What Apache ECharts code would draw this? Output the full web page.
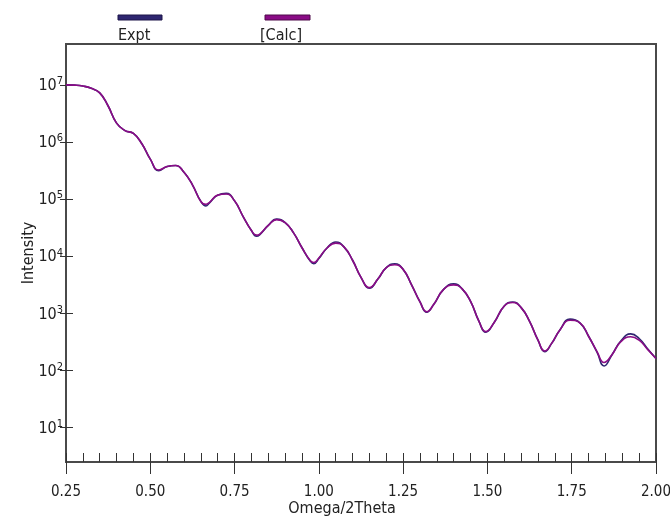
<!DOCTYPE html>
<html>
<head>
<meta charset="utf-8">
<script src="https://cdn.jsdelivr.net/npm/echarts@6/dist/echarts.min.js"></script>
<style>
  html, body { margin: 0; padding: 0; background: #ffffff; }
  #chart { width: 670px; height: 517px; }
</style>
</head>
<body>
<div id="chart"></div>
<script>
// Scan angle (Omega/2Theta, degrees)
const angle = [
  0.250, 0.275, 0.300, 0.325, 0.350, 0.375, 0.400, 0.425, 0.450, 0.475,
  0.500, 0.525, 0.550, 0.575, 0.600, 0.625, 0.650, 0.665, 0.675, 0.700,
  0.725, 0.750, 0.775, 0.800, 0.815, 0.825, 0.850, 0.875, 0.900, 0.925,
  0.950, 0.975, 0.985, 1.000, 1.025, 1.050, 1.075, 1.100, 1.125, 1.150,
  1.175, 1.200, 1.225, 1.250, 1.275, 1.300, 1.320, 1.340, 1.370, 1.400,
  1.425, 1.450, 1.475, 1.495, 1.520, 1.550, 1.575, 1.600, 1.625, 1.650,
  1.670, 1.690, 1.715, 1.745, 1.775, 1.800, 1.825, 1.846, 1.870, 1.895,
  1.925, 1.950, 1.975, 2.000
];

// Measured intensity (counts)
const exptIntensity = [
  1.00e7, 9.90e6, 9.55e6, 8.71e6, 7.24e6, 4.27e6, 2.14e6, 1.585e6, 1.41e6, 9.33e5,
  5.01e5, 3.16e5, 3.72e5, 3.89e5, 2.95e5, 1.78e5, 9.12e4, 7.59e4, 8.51e4, 1.175e5,
  1.26e5, 9.33e4, 5.01e4, 2.82e4, 2.24e4, 2.40e4, 3.47e4, 4.47e4, 3.89e4, 2.57e4,
  1.41e4, 8.13e3, 7.41e3, 9.12e3, 1.41e4, 1.78e4, 1.445e4, 8.51e3, 4.27e3, 2.75e3,
  3.98e3, 6.31e3, 7.41e3, 5.89e3, 3.16e3, 1.585e3, 1.05e3, 1.41e3, 2.63e3, 3.31e3,
  2.69e3, 1.62e3, 7.24e2, 4.68e2, 6.92e2, 1.35e3, 1.58e3, 1.26e3, 7.24e2, 3.39e2,
  2.14e2, 2.95e2, 5.13e2, 7.94e2, 6.76e2, 3.98e2, 2.09e2, 1.20e2, 1.91e2, 3.24e2,
  4.37e2, 3.63e2, 2.40e2, 1.62e2
];

// Simulated intensity (counts)
const calcIntensity = [
  1.00e7, 9.90e6, 9.55e6, 8.71e6, 7.24e6, 4.27e6, 2.14e6, 1.585e6, 1.41e6, 9.33e5,
  5.01e5, 3.24e5, 3.72e5, 3.89e5, 2.95e5, 1.78e5, 9.12e4, 8.13e4, 8.71e4, 1.175e5,
  1.23e5, 9.33e4, 5.01e4, 2.82e4, 2.34e4, 2.45e4, 3.47e4, 4.37e4, 3.89e4, 2.57e4,
  1.41e4, 8.32e3, 7.76e3, 9.33e3, 1.41e4, 1.70e4, 1.445e4, 8.51e3, 4.27e3, 2.82e3,
  3.98e3, 6.31e3, 7.08e3, 5.89e3, 3.16e3, 1.585e3, 1.07e3, 1.41e3, 2.63e3, 3.16e3,
  2.69e3, 1.62e3, 7.24e2, 4.79e2, 6.92e2, 1.35e3, 1.55e3, 1.26e3, 7.24e2, 3.39e2,
  2.19e2, 2.95e2, 5.13e2, 7.59e2, 6.76e2, 3.98e2, 2.14e2, 1.38e2, 1.91e2, 3.16e2,
  3.89e2, 3.39e2, 2.34e2, 1.62e2
];

const seriesNames = ['Expt', '[Calc]'];
const seriesColors = ['#2e2670', '#8a0c86'];
const xTickLabels = ['0.25', '0.50', '0.75', '1.00', '1.25', '1.50', '1.75', '2.00'];
const yTickValues = [1e1, 1e2, 1e3, 1e4, 1e5, 1e6, 1e7];

const FONT = "'DejaVu Sans Condensed', 'Liberation Sans Narrow', 'DejaVu Sans', sans-serif";
const AXIS_MIN_Y = 2.5;
const AXIS_MAX_Y = 5.2e7;

const chart = echarts.init(document.getElementById('chart'), null, { renderer: 'canvas' });

const toPairs = (vals) => angle.map((a, i) => [a, vals[i]]);

const option = {
  animation: false,
  backgroundColor: '#ffffff',
  grid: {
    left: 66, right: 14, top: 44, bottom: 55,
    outerBoundsMode: 'none', containLabel: false,
    show: true, borderColor: '#4a4a4a', borderWidth: 2, backgroundColor: 'transparent'
  },
  graphic: [
    { type: 'rect', shape: { x: 118, y: 15, width: 44, height: 5 },
      style: { fill: seriesColors[0], stroke: '#1c1548', lineWidth: 1 } },
    { type: 'text', x: 118, y: 44,
      style: { text: seriesNames[0], font: '16px ' + FONT, fill: '#222', textVerticalAlign: 'bottom' } },
    { type: 'rect', shape: { x: 265, y: 15, width: 45, height: 5 },
      style: { fill: seriesColors[1], stroke: '#4e0a4a', lineWidth: 1 } },
    { type: 'text', x: 260, y: 44,
      style: { text: seriesNames[1], font: '16px ' + FONT, fill: '#222', textVerticalAlign: 'bottom' } }
  ],
  xAxis: [
    {
      type: 'value', position: 'bottom', min: 0.25, max: 2.0, interval: 0.25,
      name: 'Omega/2Theta', nameLocation: 'middle', nameGap: 39, nameMoveOverlap: false,
      nameTextStyle: { fontFamily: FONT, fontSize: 16, color: '#222', padding: [0, 38, 0, 0] },
      axisLine: { show: false },
      axisTick: { show: true, inside: false, length: 12, lineStyle: { color: '#333', width: 1 } },
      axisLabel: {
        show: true, margin: 23, fontFamily: FONT, fontSize: 15, color: '#222',
        formatter: (v) => xTickLabels[Math.round((v - 0.25) / 0.25)] || ''
      },
      splitLine: { show: false }
    },
    {
      type: 'value', position: 'bottom', min: 0.25, max: 2.0, interval: 0.25,
      axisLine: { show: false },
      axisTick: { show: true, inside: true, length: 9, lineStyle: { color: '#333', width: 1 } },
      minorTick: { show: true, splitNumber: 5, length: 9, lineStyle: { color: '#333', width: 1 } },
      axisLabel: { show: false },
      splitLine: { show: false }
    }
  ],
  yAxis: [
    {
      type: 'log', logBase: 10, position: 'left', min: AXIS_MIN_Y, max: AXIS_MAX_Y,
      name: 'Intensity', nameLocation: 'middle', nameGap: 29, nameRotate: 90, nameMoveOverlap: false,
      nameTextStyle: { fontFamily: FONT, fontSize: 16, color: '#222' },
      axisLine: { show: false },
      axisTick: { show: true, inside: false, length: 6, customValues: yTickValues,
        lineStyle: { color: '#333', width: 1 } },
      axisLabel: {
        show: true, margin: 3, customValues: yTickValues,
        formatter: (v) => '{b|10}{s|' + Math.round(Math.log10(v)) + '}',
        rich: {
          b: { fontFamily: FONT, fontSize: 16, color: '#222', lineHeight: 18, verticalAlign: 'bottom' },
          s: { fontFamily: FONT, fontSize: 11, color: '#222', lineHeight: 18, verticalAlign: 'top' }
        }
      },
      splitLine: { show: false }
    },
    {
      type: 'log', logBase: 10, position: 'left', min: AXIS_MIN_Y, max: AXIS_MAX_Y,
      axisLine: { show: false },
      axisTick: { show: true, inside: true, length: 7, customValues: yTickValues,
        lineStyle: { color: '#333', width: 1 } },
      axisLabel: { show: false },
      splitLine: { show: false }
    }
  ],
  series: [
    {
      name: seriesNames[0], type: 'line', xAxisIndex: 0, yAxisIndex: 0,
      data: toPairs(exptIntensity), smooth: 0.5, showSymbol: false,
      lineStyle: { color: seriesColors[0], width: 1.6 }, itemStyle: { color: seriesColors[0] }
    },
    {
      name: seriesNames[1], type: 'line', xAxisIndex: 0, yAxisIndex: 0,
      data: toPairs(calcIntensity), smooth: 0.5, showSymbol: false,
      lineStyle: { color: seriesColors[1], width: 1.6 }, itemStyle: { color: seriesColors[1] }
    }
  ]
};

chart.setOption(option);
</script>
</body>
</html>
